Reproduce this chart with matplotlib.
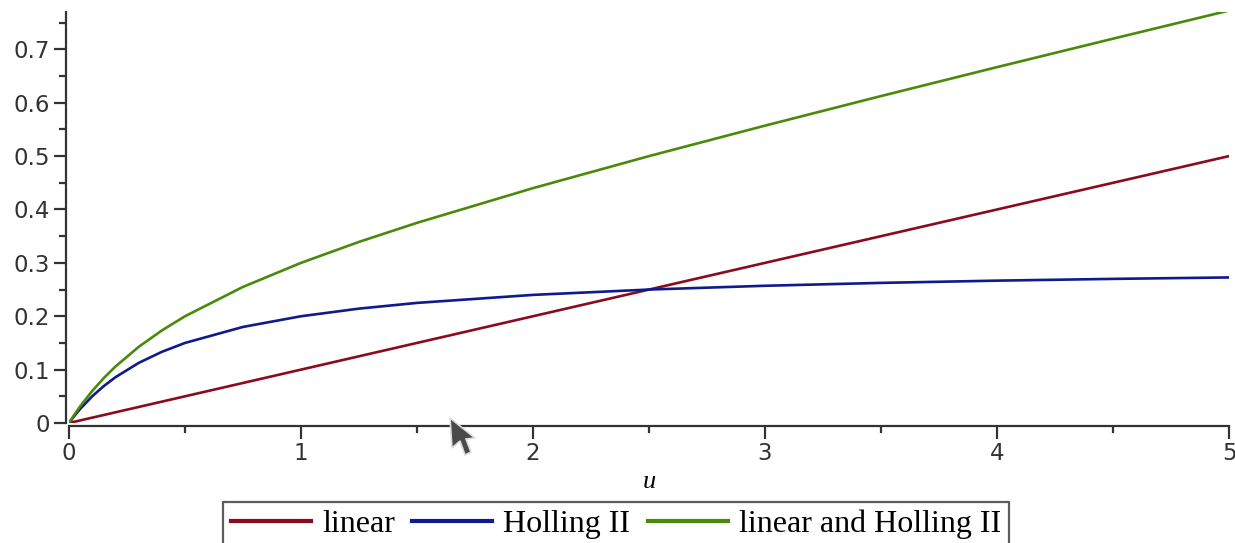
import matplotlib
matplotlib.use("Agg")
import matplotlib.pyplot as plt
from matplotlib.patches import Polygon

# sampled values of the three response curves
u = [0, 0.025, 0.05, 0.1, 0.15, 0.2, 0.3, 0.4, 0.5, 0.75, 1.0, 1.25, 1.5,
     2.0, 2.5, 3.0, 3.5, 4.0, 4.5, 5.0]
linear = [0, 0.0025, 0.005, 0.01, 0.015, 0.02, 0.03, 0.04, 0.05, 0.075, 0.1,
          0.125, 0.15, 0.2, 0.25, 0.3, 0.35, 0.4, 0.45, 0.5]
holling = [0, 0.0143, 0.0273, 0.05, 0.0692, 0.0857, 0.1125, 0.1333, 0.15,
           0.18, 0.2, 0.2143, 0.225, 0.24, 0.25, 0.2571, 0.2625, 0.2667,
           0.27, 0.2727]
both = [0, 0.0168, 0.0323, 0.06, 0.0842, 0.1057, 0.1425, 0.1733, 0.2,
        0.255, 0.3, 0.3393, 0.375, 0.44, 0.5, 0.5571, 0.6125, 0.6667,
        0.72, 0.7727]

labels = ["linear", "Holling II", "linear and Holling II"]
colors = ["#8c0a1e", "#0f1a8c", "#4a8a0a"]

W, H = 1235, 543
fig = plt.figure(figsize=(W / 100, H / 100), dpi=100)
ax = fig.add_axes([69 / W, 120 / H, 1160 / W, 411 / H])

lines = []
for ys, lab, col in zip([linear, holling, both], labels, colors):
    ln, = ax.plot(u, ys, color=col, lw=1.9, label=lab, solid_joinstyle="round")
    lines.append(ln)

ax.set_xlim(0, 5)
ax.set_ylim(0, 0.77)
ax.set_xticks([0, 1, 2, 3, 4, 5])
ax.set_xticklabels(["0", "1", "2", "3", "4", "5"])
ax.set_xticks([0.5, 1.5, 2.5, 3.5, 4.5], minor=True)
ax.set_yticks([0, 0.1, 0.2, 0.3, 0.4, 0.5, 0.6, 0.7])
ax.set_yticklabels(["0", "0.1", "0.2", "0.3", "0.4", "0.5", "0.6", "0.7"])
ax.set_yticks([0.05, 0.15, 0.25, 0.35, 0.45, 0.55, 0.65, 0.75], minor=True)

for side in ["top", "right"]:
    ax.spines[side].set_visible(False)
for side in ["left", "bottom"]:
    ax.spines[side].set_position(("outward", 2))
    ax.spines[side].set_linewidth(1.6)
    ax.spines[side].set_color("#333333")

ax.tick_params(which="major", length=9, width=1.6, color="#333333",
               labelsize=16.5, labelcolor="#333333", pad=3)
ax.tick_params(which="minor", length=5, width=1.6, color="#333333")
for lab in ax.get_xticklabels() + ax.get_yticklabels():
    lab.set_family("DejaVu Sans")

ax.set_xlabel("u", fontsize=19, family="Liberation Serif", style="italic",
              labelpad=4)

leg = fig.legend(handles=lines, loc="upper center",
                 bbox_to_anchor=(616 / W, 1 - 502 / H), ncol=3,
                 prop={"family": "Liberation Serif", "size": 23},
                 frameon=True, fancybox=False, handlelength=2.5,
                 handletextpad=0.35, columnspacing=0.55, borderpad=0.25,
                 borderaxespad=0)
leg.get_frame().set_edgecolor("#333333")
leg.get_frame().set_linewidth(1.6)
for hl in leg.get_lines():
    hl.set_linewidth(3)

# mouse pointer left over the plot area
pts = [(450, 418), (452, 448), (460, 441), (465, 455), (471, 452),
       (466, 439), (475, 438)]
cursor = Polygon([(x / W, 1 - y / H) for x, y in pts], closed=True,
                 transform=fig.transFigure, facecolor="#4a4a4a",
                 edgecolor="#dddddd", lw=1.2, zorder=10)
fig.patches.append(cursor)

fig.savefig("out.png", dpi=100)
